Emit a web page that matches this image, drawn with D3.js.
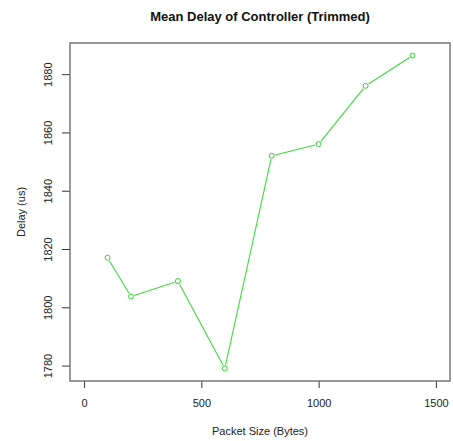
<!DOCTYPE html>
<html>
<head>
<meta charset="utf-8">
<script src="https://cdn.jsdelivr.net/npm/d3@7"></script>
<style>
  html, body { margin: 0; padding: 0; background: #fff; }
  svg { display: block; font-family: "Liberation Sans", Arial, sans-serif; }
</style>
</head>
<body>
<svg id="chart" width="453" height="441"></svg>
<script>
// Packet sizes (bytes) and trimmed mean delay (us)
const packetSizes = [100, 200, 400, 600, 800, 1000, 1200, 1400];
const meanDelay = [1817, 1803.7, 1809, 1779, 1852, 1856, 1876, 1886.4];
const xTicks = [0, 500, 1000, 1500];
const yTicks = [1780, 1800, 1820, 1840, 1860, 1880];

const svg = d3.select("#chart");
const box = { left: 70, right: 450, top: 43, bottom: 381 };

// R-style 4% padding on the axis ranges
const pad = (lo, hi) => { const d = (hi - lo) * 0.04; return [lo - d, hi + d]; };
const x = d3.scaleLinear().domain(pad(0, 1500)).range([box.left, box.right]);
const yExt = d3.extent(meanDelay);
const y = d3.scaleLinear().domain(pad(yExt[0], yExt[1])).range([box.bottom, box.top]);

// x axis
const xAxis = svg.append("g").attr("transform", `translate(0,${box.bottom})`)
  .call(d3.axisBottom(x).tickValues(xTicks).tickSize(7).tickPadding(11).tickFormat(d3.format("d")));
xAxis.select(".domain").remove();
xAxis.selectAll("line").attr("stroke", "#333");
xAxis.selectAll("text").attr("font-size", 11).attr("fill", "#222")
  .attr("font-family", "Liberation Sans, Arial, sans-serif");

// y axis with rotated labels
const yAxis = svg.append("g").attr("transform", `translate(${box.left},0)`)
  .call(d3.axisLeft(y).tickValues(yTicks).tickSize(8).tickFormat(d3.format("d")));
yAxis.select(".domain").remove();
yAxis.selectAll("line").attr("stroke", "#333");
yAxis.selectAll("text")
  .attr("font-size", 11).attr("fill", "#222")
  .attr("font-family", "Liberation Sans, Arial, sans-serif")
  .attr("text-anchor", "middle")
  .attr("x", 0).attr("dy", 0)
  .attr("transform", "translate(-18,0) rotate(-90)");

// plot frame
svg.append("rect")
  .attr("x", box.left).attr("y", box.top)
  .attr("width", box.right - box.left).attr("height", box.bottom - box.top)
  .attr("fill", "none").attr("stroke", "#777").attr("stroke-width", 1.5);

// data line and points
const pts = packetSizes.map((p, i) => [p, meanDelay[i]]);
const r = 2.5, gap = 3.5;
// segments trimmed short of each circle
for (let i = 0; i < pts.length - 1; i++) {
  const x1 = x(pts[i][0]), y1 = y(pts[i][1]), x2 = x(pts[i + 1][0]), y2 = y(pts[i + 1][1]);
  const len = Math.hypot(x2 - x1, y2 - y1), ux = (x2 - x1) / len, uy = (y2 - y1) / len;
  svg.append("line")
    .attr("x1", x1 + ux * gap).attr("y1", y1 + uy * gap)
    .attr("x2", x2 - ux * gap).attr("y2", y2 - uy * gap)
    .attr("stroke", "#3fd93f").attr("stroke-width", 1.1);
}
svg.append("g").selectAll("circle").data(pts).join("circle")
  .attr("cx", d => x(d[0])).attr("cy", d => y(d[1])).attr("r", r)
  .attr("fill", "none").attr("stroke", "#2fd22f").attr("stroke-width", 1);

// titles
svg.append("text").attr("x", (box.left + box.right) / 2).attr("y", 21)
  .attr("text-anchor", "middle").attr("font-size", 13).attr("font-weight", "bold")
  .attr("fill", "#111").text("Mean Delay of Controller (Trimmed)");
svg.append("text").attr("x", (box.left + box.right) / 2).attr("y", 435)
  .attr("text-anchor", "middle").attr("font-size", 11).attr("fill", "#222")
  .text("Packet Size (Bytes)");
svg.append("text")
  .attr("transform", `translate(25,${(box.top + box.bottom) / 2}) rotate(-90)`)
  .attr("text-anchor", "middle").attr("font-size", 11).attr("fill", "#222")
  .text("Delay (us)");
</script>
</body>
</html>
